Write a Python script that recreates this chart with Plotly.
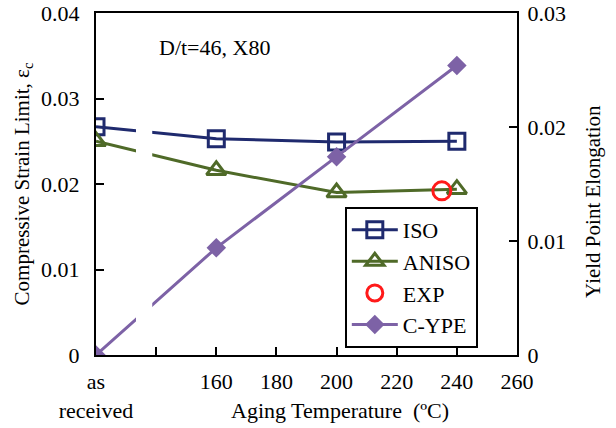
import plotly.graph_objects as go

# Data
temps = [120, 160, 200, 240]          # 120 position = "as received"
iso = [0.0267, 0.0253, 0.0249, 0.0250]
aniso = [0.0250, 0.0216, 0.0190, 0.0194]
exp_x = [235]
exp_y = [0.0192]
cype = [0.0, 0.0094, 0.0174, 0.0254]

tick_vals = [120, 140, 160, 180, 200, 220, 240, 260]
tick_text = ["as<br>received", "", "160", "180", "200", "220", "240", "260"]

FONT = "Liberation Serif"
C_ISO = "#1f2a6e"
C_ANISO = "#4f6a28"
C_EXP = "#ff1a1a"
C_CYPE = "#7d62a6"

fig = go.Figure()
fig.add_trace(go.Scatter(x=temps, y=iso, name="ISO", mode="lines+markers",
                         line=dict(color=C_ISO, width=3),
                         marker=dict(symbol="square-open", size=16, color=C_ISO, line=dict(width=3)),
                         legendgroup="a"))
fig.add_trace(go.Scatter(x=temps, y=aniso, name="ANISO", mode="lines+markers",
                         line=dict(color=C_ANISO, width=3),
                         marker=dict(symbol="triangle-up-open", size=17, color=C_ANISO, line=dict(width=3)),
                         legendgroup="b"))
fig.add_trace(go.Scatter(x=exp_x, y=exp_y, name="EXP", mode="markers",
                         marker=dict(symbol="circle-open", size=18, color=C_EXP, line=dict(width=3)),
                         legendgroup="c"))
fig.add_trace(go.Scatter(x=temps, y=cype, name="C-YPE", mode="lines+markers", yaxis="y2",
                         line=dict(color=C_CYPE, width=3),
                         marker=dict(symbol="diamond", size=15, color=C_CYPE),
                         legendgroup="d"))

# axis-break gap between "as received" and 160
fig.add_shape(type="rect", xref="x", yref="paper", x0=133.3, x1=138.7, y0=0.03, y1=0.95,
              fillcolor="white", line=dict(width=0), layer="above")

fig.add_annotation(text="D/t=46, X80", xref="paper", yref="paper", x=0.145, y=0.898,
                   xanchor="left", yanchor="middle", showarrow=False,
                   font=dict(family=FONT, size=22, color="black"))

# x-axis title (placed level with the second line of "as received")
fig.add_annotation(text="Aging Temperature  (ºC)", xref="paper", yref="paper",
                   x=0.58, y=-0.163, xanchor="center", yanchor="middle", showarrow=False,
                   font=dict(family=FONT, size=22, color="black"))

# right axis title
fig.add_annotation(text="Yield Point Elongation", xref="paper", yref="paper",
                   x=1.18, y=0.45, xanchor="center", yanchor="middle", showarrow=False,
                   textangle=-90, font=dict(family=FONT, size=21, color="black"))

axis_font = dict(family=FONT, size=22, color="black")
fig.update_layout(
    width=616, height=428,
    margin=dict(l=96, r=99, t=13, b=73, autoexpand=False),
    paper_bgcolor="white", plot_bgcolor="white",
    font=dict(family=FONT, size=22, color="black"),
    xaxis=dict(range=[120, 260], tickvals=tick_vals, ticktext=tick_text,
               ticks="inside", ticklen=8, tickwidth=2, tickcolor="black",
               showline=True, linecolor="black", linewidth=2, mirror=True,
               showgrid=False, zeroline=False, tickfont=axis_font,
               ticklabelstandoff=6, automargin=False),
    yaxis=dict(range=[0, 0.04], dtick=0.01, ticks="inside", ticklen=8, tickwidth=2,
               tickcolor="black", showline=True, linecolor="black", linewidth=2,
               showgrid=False, zeroline=False, tickfont=axis_font, automargin=False,
               ticklabelstandoff=10,
               title=dict(text="Compressive Strain Limit, ε<sub>c</sub>",
                          font=dict(family=FONT, size=21, color="black"), standoff=6)),
    yaxis2=dict(range=[0, 0.03], dtick=0.01, overlaying="y", side="right",
                ticks="inside", ticklen=8, tickwidth=2, tickcolor="black",
                showline=True, linecolor="black", linewidth=2, showgrid=False,
                zeroline=False, tickfont=axis_font, automargin=False,
                ticklabelstandoff=4),
    legend=dict(x=0.591, y=0.433, xanchor="left", yanchor="top",
                bordercolor="black", borderwidth=2, bgcolor="white",
                font=dict(family=FONT, size=22, color="black"),
                traceorder="grouped", tracegroupgap=0, itemwidth=46),
    showlegend=True,
)

fig.write_html("out.html")
